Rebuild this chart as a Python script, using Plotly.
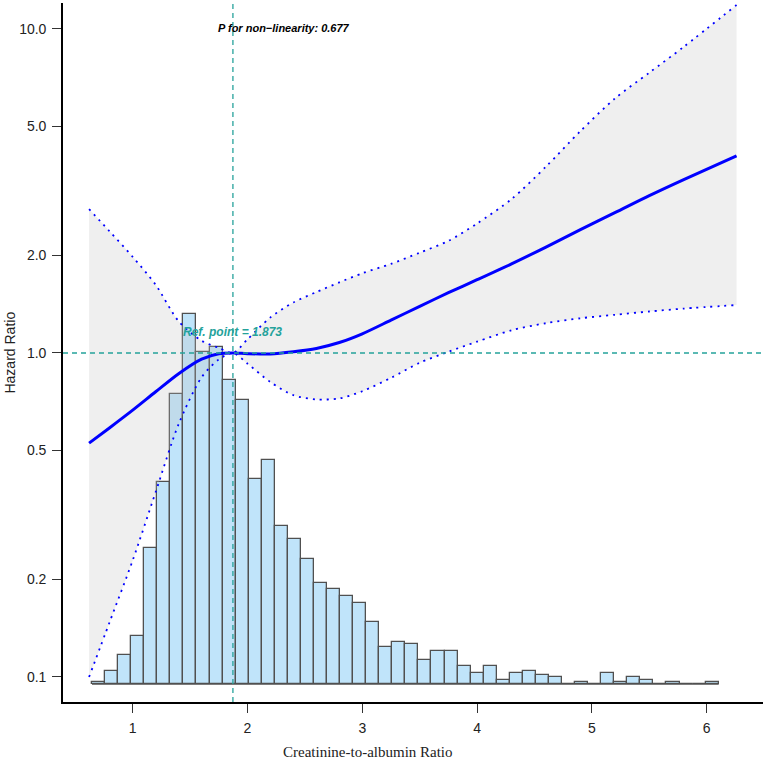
import plotly.graph_objects as go

# ---------------- data ----------------
x_grid = [0.62, 0.8, 1.0, 1.2, 1.4, 1.6, 1.75, 1.873, 2.0, 2.2, 2.4, 2.6, 2.8,
          3.0, 3.25, 3.5, 3.75, 4.0, 4.3, 4.6, 4.9, 5.2, 5.5, 5.8, 6.26]
hr_main = [0.527, 0.588, 0.666, 0.759, 0.863, 0.957, 0.995, 1.0, 0.995, 0.993,
           1.009, 1.033, 1.077, 1.146, 1.263, 1.393, 1.535, 1.683, 1.884, 2.123,
           2.404, 2.71, 3.06, 3.43, 4.06]
hr_upper = [2.78, 2.37, 1.98, 1.624, 1.253, 1.091, 1.037, 1.0, 1.102, 1.288,
            1.432, 1.542, 1.652, 1.762, 1.884, 2.04, 2.218, 2.51, 2.985, 3.76,
            4.84, 6.10, 7.33, 8.81, 11.86]
hr_lower = [0.100, 0.148, 0.229, 0.372, 0.603, 0.841, 0.955, 1.0, 0.927, 0.813,
            0.741, 0.719, 0.724, 0.762, 0.838, 0.933, 1.009, 1.084, 1.175, 1.236,
            1.28, 1.312, 1.343, 1.371, 1.406]

hist_counts = [1, 6, 13, 22, 62, 92, 132, 168, 151, 153, 138, 129, 93, 102, 72, 66,
               57, 46, 43, 40, 37, 28, 17, 19, 18, 11, 15, 15, 8, 5, 8, 2,
               5, 6, 4, 3, 0, 1, 0, 5, 1, 3, 2, 0, 1, 0, 0, 1]
hist_start = 0.6455
hist_binwidth = 0.11373

ref_point = 1.873
p_nonlinearity = "0.677"

x_tick_vals = [1, 2, 3, 4, 5, 6]
y_tick_vals = [0.1, 0.2, 0.5, 1.0, 2.0, 5.0, 10.0]
y_tick_text = ["0.1", "0.2", "0.5", "1.0", "2.0", "5.0", "10.0"]

x_range = [0.3929, 6.4904]
y_log_range = [-1.0772, 1.0802]
count_range = [-8.18, 309.55]

# ---------------- styles ----------------
TEAL = "#25A29B"
BLUE = "#0000FF"
SANS = "Liberation Sans, Arial, sans-serif"
SERIF = "Liberation Serif, Times New Roman, serif"

bin_centers = [hist_start + (i + 0.5) * hist_binwidth for i in range(len(hist_counts))]
bin_edges_span = [hist_start, hist_start + len(hist_counts) * hist_binwidth]

fig = go.Figure()

# histogram (primary, hidden count axis)
fig.add_trace(go.Bar(
    x=bin_centers, y=hist_counts, width=hist_binwidth,
    marker=dict(color="#C0E4FA", line=dict(color="#505050", width=1.3)),
    yaxis="y", xaxis="x", showlegend=False, hoverinfo="skip"))
fig.add_trace(go.Scatter(
    x=bin_edges_span, y=[0, 0], mode="lines",
    line=dict(color="#505050", width=1.3), yaxis="y", showlegend=False, hoverinfo="skip"))

# CI band + lines (overlay log axis)
fig.add_trace(go.Scatter(
    x=x_grid, y=hr_lower, mode="lines",
    line=dict(color=BLUE, width=1.8, dash="2px,5px", shape="spline", smoothing=0.8),
    yaxis="y2", showlegend=False))
fig.add_trace(go.Scatter(
    x=x_grid, y=hr_upper, mode="lines", fill="tonexty",
    fillcolor="rgba(190,190,190,0.25)",
    line=dict(color=BLUE, width=1.8, dash="2px,5px", shape="spline", smoothing=0.8),
    yaxis="y2", showlegend=False))
fig.add_trace(go.Scatter(
    x=x_grid, y=hr_main, mode="lines",
    line=dict(color=BLUE, width=3, shape="spline", smoothing=0.8),
    yaxis="y2", showlegend=False))

# reference lines
hr1_paper = (0 - y_log_range[0]) / (y_log_range[1] - y_log_range[0])
fig.add_shape(type="line", xref="paper", yref="paper", x0=0, x1=1,
              y0=hr1_paper, y1=hr1_paper, layer="above",
              line=dict(color=TEAL, width=1.3, dash="5px,4px"))
fig.add_shape(type="line", xref="x", yref="paper", x0=ref_point, x1=ref_point,
              y0=0, y1=1, layer="above",
              line=dict(color=TEAL, width=1.3, dash="5px,4px"))

# annotations
fig.add_annotation(x=ref_point, y=0.5293, xref="x", yref="paper",
                   text="<b><i>Ref. point = %s</i></b>" % ref_point, showarrow=False,
                   font=dict(family=SANS, size=12, color=TEAL),
                   xanchor="center", yanchor="middle")
fig.add_annotation(x=0.315, y=0.9642, xref="paper", yref="paper",
                   text="<b><i>P for non\u2212linearity: %s</i></b>" % p_nonlinearity,
                   showarrow=False, font=dict(family=SANS, size=11, color="#000000"),
                   xanchor="center", yanchor="middle")
fig.add_annotation(x=0.4357, y=-0.0715, xref="paper", yref="paper",
                   text="Creatinine-to-albumin Ratio", showarrow=False,
                   font=dict(family=SERIF, size=15, color="#222222"),
                   xanchor="center", yanchor="middle")
fig.add_annotation(x=-0.0771, y=0.5, xref="paper", yref="paper",
                   text="Hazard Ratio", showarrow=False, textangle=-90,
                   font=dict(family=SANS, size=14, color="#222222"),
                   xanchor="center", yanchor="middle")

fig.update_layout(
    width=767, height=760,
    margin=dict(l=63, r=4, t=3, b=58, pad=0),
    paper_bgcolor="white", plot_bgcolor="white",
    bargap=0, showlegend=False,
    xaxis=dict(range=x_range, tickvals=x_tick_vals, ticktext=[str(v) for v in x_tick_vals],
               showline=True, linecolor="#000000", linewidth=1.6,
               ticks="outside", ticklen=9, tickwidth=1.3, tickcolor="#333333",
               tickfont=dict(family=SANS, size=14, color="#222222"),
               ticklabelstandoff=3,
               showgrid=False, zeroline=False),
    yaxis=dict(range=count_range, visible=False, showgrid=False, zeroline=False),
    yaxis2=dict(type="log", range=y_log_range, overlaying="y", side="left", anchor="x",
                tickvals=y_tick_vals, ticktext=y_tick_text,
                showline=True, linecolor="#000000", linewidth=1.6,
                ticks="outside", ticklen=9, tickwidth=1.3, tickcolor="#333333",
                tickfont=dict(family=SANS, size=14, color="#222222"),
                ticklabelstandoff=3,
                showgrid=False, zeroline=False),
)

fig.write_html("out.html")
